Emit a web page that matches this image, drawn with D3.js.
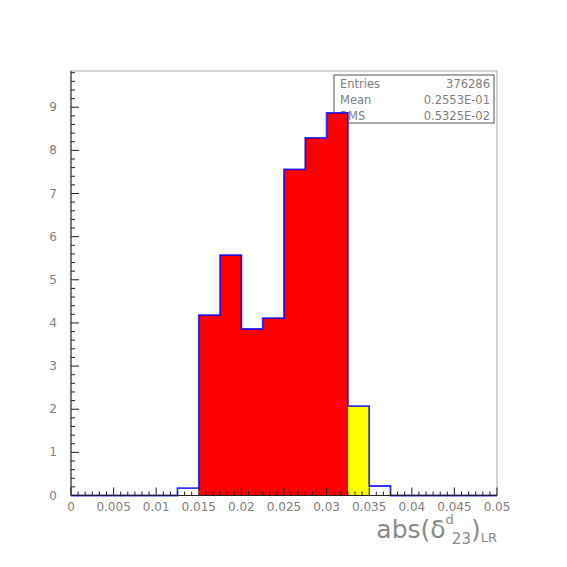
<!DOCTYPE html>
<html>
<head>
<meta charset="utf-8">
<script src="https://cdn.jsdelivr.net/npm/d3@7"></script>
<style>
  body { margin: 0; background: #fff; }
  text { font-family: "DejaVu Sans", sans-serif; fill: #808080; }
</style>
</head>
<body>
<div id="chart"></div>
<script>
// Histogram bins (lower edges) and contents
const binEdges = d3.range(0, 0.05, 0.0025);
const binWidth = 0.0025;
const counts = [0, 0, 0, 0, 0, 0.17, 4.18, 5.57, 3.86, 4.11,
                7.56, 8.29, 8.87, 2.07, 0.22, 0, 0, 0, 0, 0];
const redRange = [0.015, 0.0325];
const yellowRange = [0.0325, 0.035];

const xTicks = [0, 0.005, 0.01, 0.015, 0.02, 0.025, 0.03, 0.035, 0.04, 0.045, 0.05];
const xTickLabels = ["0", "0.005", "0.01", "0.015", "0.02", "0.025", "0.03", "0.035", "0.04", "0.045", "0.05"];
const yTicks = [0, 1, 2, 3, 4, 5, 6, 7, 8, 9];

const statsLabels = ["Entries", "Mean", "RMS"];
const statsValues = ["376286", "0.2553E-01", "0.5325E-02"];

const width = 567, height = 567;
const plotLeft = 71, plotRight = 497, plotTop = 71, plotBottom = 495.5;

const svg = d3.select("#chart").append("svg")
    .attr("width", width)
    .attr("height", height);

const x = d3.scaleLinear().domain([0, 0.05]).range([plotLeft, plotRight]);
const y = d3.scaleLinear().domain([0, 9.84]).range([plotBottom, plotTop]);

const bins = binEdges.map((lo, i) => ({ lo: lo, hi: lo + binWidth, v: counts[i] }));

// frame
svg.append("rect")
    .attr("x", plotLeft).attr("y", plotTop)
    .attr("width", plotRight - plotLeft).attr("height", plotBottom - plotTop)
    .attr("fill", "none")
    .attr("stroke", "#aaa")
    .attr("stroke-width", 1);

// stats box (drawn under the histogram, like the original)
const box = svg.append("g");
box.append("rect")
    .attr("x", 334).attr("y", 75)
    .attr("width", 160).attr("height", 48)
    .attr("fill", "#fff")
    .attr("stroke", "#555")
    .attr("stroke-width", 1);
box.selectAll(".slabel").data(statsLabels).enter().append("text")
    .attr("x", 340)
    .attr("y", (d, i) => 88 + i * 16)
    .style("font-size", "11.5px")
    .text(d => d);
box.selectAll(".svalue").data(statsValues).enter().append("text")
    .attr("x", 490)
    .attr("y", (d, i) => 88 + i * 16)
    .attr("text-anchor", "end")
    .style("font-size", "11.5px")
    .text(d => d);

// filled bins
function fillFor(d) {
    const mid = (d.lo + d.hi) / 2;
    if (mid > redRange[0] && mid < redRange[1]) return "#ff0000";
    if (mid > yellowRange[0] && mid < yellowRange[1]) return "#ffff00";
    return null;
}
svg.selectAll(".bin")
    .data(bins.filter(d => fillFor(d)))
    .enter().append("rect")
    .attr("class", "bin")
    .attr("x", d => x(d.lo))
    .attr("width", d => x(d.hi) - x(d.lo) + 0.5)
    .attr("y", d => y(d.v))
    .attr("height", d => y(0) - y(d.v))
    .attr("fill", d => fillFor(d))
    .attr("shape-rendering", "crispEdges");

// histogram outline
const pts = [];
bins.forEach(d => {
    pts.push([x(d.lo), y(d.v)]);
    pts.push([x(d.hi), y(d.v)]);
});
svg.append("path")
    .attr("d", d3.line()(pts))
    .attr("fill", "none")
    .attr("stroke", "#0000ff")
    .attr("stroke-width", 1.8)
    .attr("stroke-opacity", 0.8);

// x axis
const axisColor = "#222";
svg.append("line")
    .attr("x1", plotLeft).attr("x2", plotRight)
    .attr("y1", plotBottom).attr("y2", plotBottom)
    .attr("stroke", axisColor).attr("stroke-width", 1);
const xMinor = [];
for (let i = 0; i < xTicks.length - 1; i++) {
    for (let k = 1; k < 6; k++) xMinor.push(xTicks[i] + k * (xTicks[i + 1] - xTicks[i]) / 6);
}
svg.selectAll(".xminor").data(xMinor).enter().append("line")
    .attr("x1", d => x(d)).attr("x2", d => x(d))
    .attr("y1", plotBottom).attr("y2", plotBottom - 4)
    .attr("stroke", axisColor);
svg.selectAll(".xmajor").data(xTicks).enter().append("line")
    .attr("x1", d => x(d)).attr("x2", d => x(d))
    .attr("y1", plotBottom).attr("y2", plotBottom - 8)
    .attr("stroke", axisColor);
svg.selectAll(".xlabel").data(xTicks).enter().append("text")
    .attr("x", d => x(d))
    .attr("y", plotBottom + 15)
    .attr("text-anchor", "middle")
    .style("font-size", "12px")
    .text((d, i) => xTickLabels[i]);

// y axis
svg.append("line")
    .attr("x1", plotLeft).attr("x2", plotLeft)
    .attr("y1", plotBottom).attr("y2", plotTop)
    .attr("stroke", axisColor).attr("stroke-width", 1);
const yMinor = [];
for (let v = 0; v < 9.84; v += 0.2) {
    if (Math.abs(v - Math.round(v)) > 0.01) yMinor.push(v);
}
svg.selectAll(".yminor").data(yMinor).enter().append("line")
    .attr("x1", plotLeft).attr("x2", plotLeft + 4)
    .attr("y1", d => y(d)).attr("y2", d => y(d))
    .attr("stroke", axisColor);
svg.selectAll(".ymajor").data(yTicks).enter().append("line")
    .attr("x1", plotLeft).attr("x2", plotLeft + 8)
    .attr("y1", d => y(d)).attr("y2", d => y(d))
    .attr("stroke", axisColor);
svg.selectAll(".ylabel").data(yTicks).enter().append("text")
    .attr("x", 57)
    .attr("y", d => y(d) + 4)
    .attr("text-anchor", "end")
    .style("font-size", "12px")
    .text(d => d);

// x axis title: abs(δ^d_23)_LR
const title = svg.append("text")
    .attr("x", 497)
    .attr("y", 538)
    .attr("text-anchor", "end")
    .style("font-size", "25px")
    .style("fill", "#8a8a8a");
title.append("tspan").text("abs(δ");
title.append("tspan").attr("dy", -14).style("font-size", "13px").text("d");
title.append("tspan").attr("dy", 20).attr("dx", -2).style("font-size", "15px").text("23");
title.append("tspan").attr("dy", -6).text(")");
title.append("tspan").attr("dy", 4).style("font-size", "13px").text("LR");
</script>
</body>
</html>
